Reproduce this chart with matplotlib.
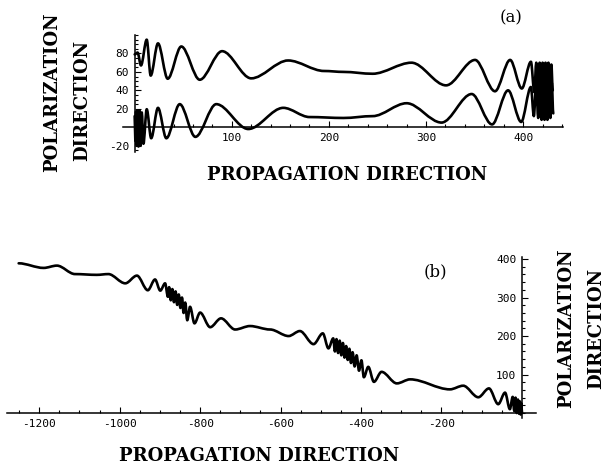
import matplotlib
matplotlib.use("Agg")
import matplotlib.pyplot as plt
from matplotlib.path import Path
from matplotlib.patches import PathPatch
from matplotlib.ticker import MultipleLocator, FixedLocator

plt.rcParams["axes.unicode_minus"] = False

# (a) extremos: curva superior e inferior
xa_sup = [0, 3, 6.5, 12.4, 16.5, 24, 34, 48, 67, 90, 120, 158, 195, 215, 245, 285, 320.6,
          350.5, 371, 386.6, 398.6, 408, 411.5, 413.5, 415, 417, 418.5, 420, 421.5, 423,
          424.5, 426, 427.5, 429, 430.5]
ya_sup = [79, 81, 67, 95, 56, 91, 52.6, 87.6, 51.5, 82.5, 53, 72.4, 61, 60, 58, 70, 45.4,
          73, 39, 73, 42, 71, 38, 70, 35, 70, 35, 70, 35, 70,
          35, 70, 35, 68, 40]

xa_inf = [0, 0.7, 1.4, 2.2, 3.0, 3.9, 4.9, 6.0, 7.3, 9.0, 12.4, 17, 24, 32.6, 46.4, 62.5, 84,
          117, 153, 180, 215, 245, 280, 316, 347, 368, 384.5, 398, 408, 411, 413.5, 415.5,
          417.5, 419, 420.5, 422, 423.5, 425, 426.5, 428, 429.5, 431]
ya_inf = [12, -15, 17, -20, 18, -21, 18, -20, 16, -18, 19.5, -12, 21, -12, 25, -10.5, 25,
          -2, 21, 11, 10, 12, 26, 5, 36, 3, 40, 5.7, 43.6, 12, 48, 10,
          50, 8, 50, 8, 50, 8, 50, 10, 48, 15]

# (b)
xb = [-1251, -1189, -1156, -1111, -1057, -1028, -986, -957, -930, -912, -899, -887, -880,
      -877, -873, -869, -865, -861, -857, -853, -849, -845, -841, -837, -832,
      -825, -814, -800, -775, -748, -713, -676, -626, -580, -552, -518, -495, -481, -469,
      -465, -461, -457, -453, -449, -445, -441, -437, -433, -429, -425, -421, -416, -411,
      -405, -399, -393, -382, -368, -349, -311, -278, -179, -146, -108.5, -82, -59, -42,
      -30, -23, -19, -16, -13, -10, -7, -5, -3, -1.5, 0]
yb = [389, 377, 383, 361, 359, 361, 337, 357, 319, 347, 318, 337, 302,
      327, 293, 322, 288, 316, 281, 308, 273, 300, 260, 287, 241,
      276, 233, 261, 223, 246, 217, 226, 217, 200, 213, 179, 207, 168, 194,
      160, 192, 156, 188, 150, 182, 144, 174, 138, 167, 130, 158, 121, 150,
      110, 137, 93, 120, 81, 107, 77, 87.5, 61.5, 71, 41, 64, 23, 53,
      10, 42, 5, 40, 0, 35, -2, 30, -4, 25, 0]


def curva(ax, xs, ys):
    # curva suave con tangentes horizontales en cada extremo
    verts = [(xs[0], ys[0])]
    codes = [Path.MOVETO]
    for i in range(1, len(xs)):
        d = (xs[i] - xs[i - 1]) / 3
        verts += [(xs[i - 1] + d, ys[i - 1]), (xs[i] - d, ys[i]), (xs[i], ys[i])]
        codes += [Path.CURVE4] * 3
    ax.add_patch(PathPatch(Path(verts, codes), fill=False, lw=1.9, color="black",
                           capstyle="round", joinstyle="round"))


def ejes(ax):
    ax.spines["left"].set_position(("data", 0))
    ax.spines["bottom"].set_position(("data", 0))
    ax.spines["top"].set_visible(False)
    ax.spines["right"].set_visible(False)
    for s in ("left", "bottom"):
        ax.spines[s].set_linewidth(1.1)
    ax.tick_params(which="both", direction="in", width=0.8, pad=4, labelsize=8,
                   labelfontfamily="DejaVu Sans Mono")
    ax.tick_params(which="major", length=4)
    ax.tick_params(which="minor", length=2.2)
    ax.set_facecolor("none")


fig = plt.figure(figsize=(6.06, 4.65), dpi=100)
titulo = dict(family="DejaVu Serif", weight="bold", fontsize=13)

ax1 = fig.add_axes([0.203, 0.673, 0.726, 0.2516])
curva(ax1, xa_sup, ya_sup)
curva(ax1, xa_inf, ya_inf)
ax1.set_xlim(-12, 441)
ax1.set_ylim(-27, 100)
ax1.xaxis.set_major_locator(FixedLocator([100, 200, 300, 400]))
ax1.xaxis.set_minor_locator(MultipleLocator(20))
ax1.yaxis.set_major_locator(FixedLocator([-20, 20, 40, 60, 80]))
ax1.yaxis.set_minor_locator(MultipleLocator(5))
ejes(ax1)

ax2 = fig.add_axes([0.01155, 0.101, 0.873, 0.346])
curva(ax2, xb, yb)
ax2.set_xlim(-1280, 35)
ax2.set_ylim(-13, 405)
ax2.xaxis.set_major_locator(FixedLocator([-1200, -1000, -800, -600, -400, -200]))
ax2.xaxis.set_minor_locator(MultipleLocator(50))
ax2.yaxis.set_major_locator(FixedLocator([100, 200, 300, 400]))
ax2.yaxis.set_minor_locator(MultipleLocator(20))
ejes(ax2)

# textos
fig.text(52 / 606, 1 - 92 / 465, "POLARIZATION", rotation=90, ha="center", va="center", **titulo)
fig.text(82 / 606, 1 - 100 / 465, "DIRECTION", rotation=90, ha="center", va="center", **titulo)
fig.text(347 / 606, 1 - 175 / 465, "PROPAGATION DIRECTION", ha="center", va="center", **titulo)
fig.text(511 / 606, 1 - 18 / 465, "(a)", ha="center", va="center", family="DejaVu Serif", fontsize=12)

fig.text(566 / 606, 1 - 328 / 465, "POLARIZATION", rotation=90, ha="center", va="center", **titulo)
fig.text(596 / 606, 1 - 328 / 465, "DIRECTION", rotation=90, ha="center", va="center", **titulo)
fig.text(259 / 606, 1 - 456 / 465, "PROPAGATION DIRECTION", ha="center", va="center", **titulo)
fig.text(435 / 606, 1 - 272 / 465, "(b)", ha="center", va="center", family="DejaVu Serif", fontsize=12)

plt.savefig("out.png", dpi=100)
